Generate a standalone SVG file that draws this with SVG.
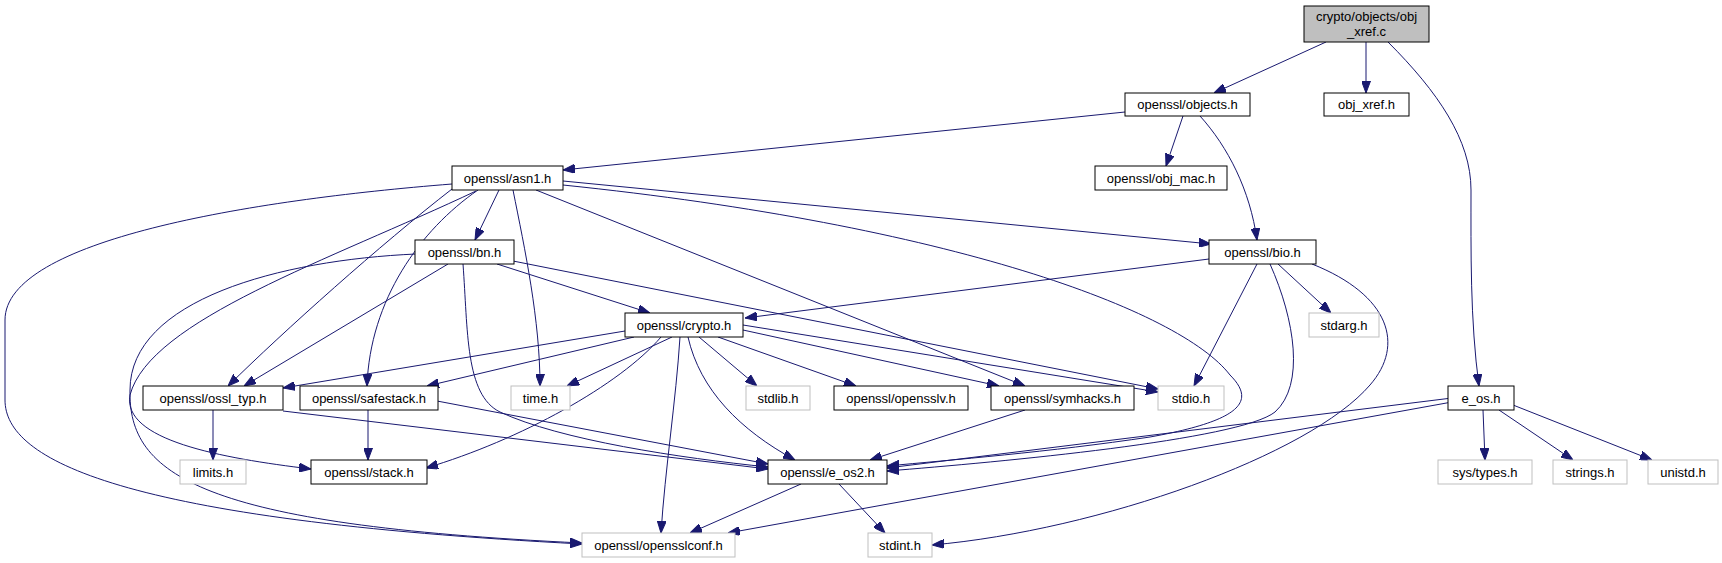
<svg xmlns="http://www.w3.org/2000/svg" width="1722" height="563" viewBox="0 0 1722 563">
<defs>
<marker id="ah" markerWidth="12" markerHeight="9" refX="12" refY="4.5" orient="auto" markerUnits="userSpaceOnUse">
<path d="M0,0 L12,4.5 L0,9 z" fill="#191970" stroke="#191970" stroke-width="1"/>
</marker>
<style>
.n rect{fill:#fff;stroke:#000;stroke-width:1}
.x rect{fill:#fff;stroke:#bfbfbf;stroke-width:1}
.r rect{fill:#bfbfbf;stroke:#000;stroke-width:1}
text{font-family:"Liberation Sans",Arial,sans-serif;font-size:13px;fill:#000;text-anchor:middle}
#edges path{fill:none;stroke:#191970;stroke-width:1;marker-end:url(#ah)}
</style>
</defs>
<rect width="1722" height="563" fill="#fff"/>
<g id="edges">
<path d="M1326,42 L1214,93"/>
<path d="M1366,42 L1366,93"/>
<path d="M1388,42 C1438,92 1471,140 1471,190 C1471,250 1470,320 1479,386"/>
<path d="M1125,112 L563,170"/>
<path d="M1183,116 L1166,166"/>
<path d="M1200,116 C1228,147 1250,190 1257,240"/>
<path d="M563,181 L1211,244"/>
<path d="M499,190 L475,240"/>
<path d="M513,190 C525,250 540,320 540,386"/>
<path d="M452,189 C380,245 285,330 228,386"/>
<path d="M478,190 C420,230 370,300 367,386"/>
<path d="M476,191 C330,260 150,320 130,395 C122,440 220,458 311,469"/>
<path d="M452,184 C250,200 5,240 5,320 L5,400 C5,460 120,520 582,544"/>
<path d="M536,190 L1025,386"/>
<path d="M563,185 C950,225 1180,310 1230,375 C1255,400 1245,420 1150,437 C1050,452 950,460 887,466"/>
<path d="M497,264 L650,313"/>
<path d="M513,261 L1158,389"/>
<path d="M448,264 L244,386"/>
<path d="M463,264 C468,330 465,395 500,412 C560,440 680,458 768,467"/>
<path d="M416,254 C280,260 130,300 130,390 C128,475 200,525 582,543"/>
<path d="M625,331 L283,388"/>
<path d="M634,337 L427,386"/>
<path d="M661,337 C620,385 520,440 426,468"/>
<path d="M672,337 L567,386"/>
<path d="M680,337 C676,400 665,470 661,533"/>
<path d="M688,337 C700,390 740,430 795,460"/>
<path d="M699,337 L757,386"/>
<path d="M718,337 L856,386"/>
<path d="M743,330 L999,386"/>
<path d="M743,325 L1158,392"/>
<path d="M1209,259 L745,318"/>
<path d="M1257,264 L1194,386"/>
<path d="M1270,264 C1295,320 1305,385 1275,412 C1240,440 1000,462 887,471"/>
<path d="M1278,264 L1331,313"/>
<path d="M1312,264 C1390,295 1405,345 1370,385 C1310,455 1100,530 932,545"/>
<path d="M1452,398 L887,468"/>
<path d="M1452,402 L728,533"/>
<path d="M1483,410 L1485,460"/>
<path d="M1499,410 L1573,460"/>
<path d="M1513,405 L1652,460"/>
<path d="M213,410 L213,460"/>
<path d="M283,411 L768,469"/>
<path d="M368,410 L368,460"/>
<path d="M437,401 L768,464"/>
<path d="M1025,410 L870,460"/>
<path d="M801,484 L690,533"/>
<path d="M839,484 L885,533"/>
</g>
<g id="n_root" class="r"><rect x="1304" y="6" width="125" height="36"/><text x="1366.5" y="21">crypto/objects/obj</text><text x="1366.5" y="36">_xref.c</text></g>
<g id="n_objects" class="n"><rect x="1125" y="93" width="125" height="23"/><text x="1187.5" y="109">openssl/objects.h</text></g>
<g id="n_obj_xref" class="n"><rect x="1324" y="93" width="85" height="23"/><text x="1366.5" y="109">obj_xref.h</text></g>
<g id="n_asn1" class="n"><rect x="452" y="166" width="111" height="24"/><text x="507.5" y="182.5">openssl/asn1.h</text></g>
<g id="n_obj_mac" class="n"><rect x="1095" y="166" width="132" height="24"/><text x="1161" y="182.5">openssl/obj_mac.h</text></g>
<g id="n_bn" class="n"><rect x="415" y="240" width="99" height="24"/><text x="464.5" y="256.5">openssl/bn.h</text></g>
<g id="n_bio" class="n"><rect x="1209" y="240" width="107" height="24"/><text x="1262.5" y="256.5">openssl/bio.h</text></g>
<g id="n_crypto" class="n"><rect x="625" y="313" width="118" height="24"/><text x="684" y="329.5">openssl/crypto.h</text></g>
<g id="n_stdarg" class="x"><rect x="1309" y="313" width="70" height="24"/><text x="1344" y="329.5">stdarg.h</text></g>
<g id="n_ossl_typ" class="n"><rect x="143" y="386" width="140" height="24"/><text x="213" y="402.5">openssl/ossl_typ.h</text></g>
<g id="n_safestack" class="n"><rect x="300" y="386" width="138" height="24"/><text x="369" y="402.5">openssl/safestack.h</text></g>
<g id="n_time" class="x"><rect x="511" y="386" width="59" height="24"/><text x="540.5" y="402.5">time.h</text></g>
<g id="n_stdlib" class="x"><rect x="746" y="386" width="64" height="24"/><text x="778" y="402.5">stdlib.h</text></g>
<g id="n_opensslv" class="n"><rect x="834" y="386" width="134" height="24"/><text x="901" y="402.5">openssl/opensslv.h</text></g>
<g id="n_symhacks" class="n"><rect x="991" y="386" width="143" height="24"/><text x="1062.5" y="402.5">openssl/symhacks.h</text></g>
<g id="n_stdio" class="x"><rect x="1158" y="386" width="66" height="24"/><text x="1191" y="402.5">stdio.h</text></g>
<g id="n_e_os" class="n"><rect x="1448" y="386" width="66" height="24"/><text x="1481" y="402.5">e_os.h</text></g>
<g id="n_limits" class="x"><rect x="180" y="460" width="66" height="24"/><text x="213" y="476.5">limits.h</text></g>
<g id="n_stack" class="n"><rect x="311" y="460" width="116" height="24"/><text x="369" y="476.5">openssl/stack.h</text></g>
<g id="n_e_os2" class="n"><rect x="768" y="460" width="119" height="24"/><text x="827.5" y="476.5">openssl/e_os2.h</text></g>
<g id="n_systypes" class="x"><rect x="1438" y="460" width="94" height="24"/><text x="1485" y="476.5">sys/types.h</text></g>
<g id="n_strings" class="x"><rect x="1553" y="460" width="74" height="24"/><text x="1590" y="476.5">strings.h</text></g>
<g id="n_unistd" class="x"><rect x="1648" y="460" width="70" height="24"/><text x="1683" y="476.5">unistd.h</text></g>
<g id="n_opensslconf" class="x"><rect x="582" y="533" width="153" height="24"/><text x="658.5" y="549.5">openssl/opensslconf.h</text></g>
<g id="n_stdint" class="x"><rect x="868" y="533" width="64" height="24"/><text x="900" y="549.5">stdint.h</text></g>
</svg>
